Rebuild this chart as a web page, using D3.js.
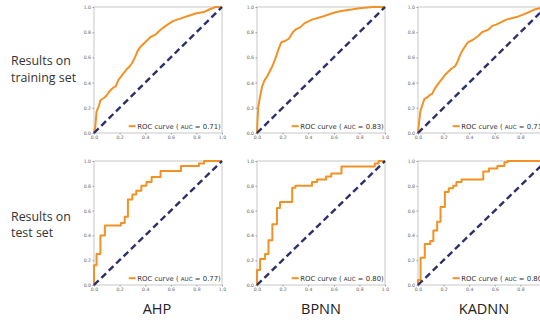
<!DOCTYPE html>
<html><head><meta charset="utf-8">
<script src="https://cdn.jsdelivr.net/npm/d3@7"></script>
<style>html,body{margin:0;padding:0;background:#fff;overflow:hidden}</style>
</head><body>
<svg id="c" width="540" height="323"></svg>
<script>
const models = ["AHP", "BPNN", "KADNN"];
const rowLabels = [["Results on", "training set"], ["Results on", "test set"]];
const aucTrain = ["0.71", "0.83", "0.71"];
const aucTest = ["0.77", "0.80", "0.80"];
const tickValues = [0, 0.2, 0.4, 0.6, 0.8, 1.0];
const tickLabels = ["0.0", "0.2", "0.4", "0.6", "0.8", "1.0"];

const ahpTrain = [[0,0],[0.01,0.05],[0.02,0.17],[0.04,0.22],[0.05,0.26],[0.08,0.28],[0.1,0.3],[0.12,0.33],[0.15,0.36],[0.17,0.37],[0.19,0.42],[0.22,0.46],[0.25,0.5],[0.28,0.53],[0.3,0.56],[0.32,0.6],[0.34,0.65],[0.36,0.68],[0.4,0.72],[0.44,0.76],[0.48,0.78],[0.52,0.82],[0.56,0.85],[0.62,0.89],[0.68,0.91],[0.74,0.93],[0.8,0.95],[0.86,0.96],[0.9,0.98],[0.95,1.0],[1,1]];
const bpnnTrain = [[0,0],[0.005,0.12],[0.01,0.21],[0.03,0.32],[0.04,0.37],[0.06,0.42],[0.08,0.45],[0.1,0.49],[0.12,0.53],[0.14,0.58],[0.16,0.64],[0.17,0.67],[0.19,0.72],[0.22,0.73],[0.25,0.75],[0.28,0.8],[0.3,0.82],[0.34,0.84],[0.37,0.87],[0.43,0.9],[0.5,0.92],[0.56,0.94],[0.62,0.96],[0.67,0.97],[0.74,0.98],[0.8,0.99],[0.9,1.0],[1,1]];
const kadnnTrain = [[0,0],[0.01,0.1],[0.02,0.18],[0.04,0.24],[0.05,0.27],[0.07,0.28],[0.09,0.3],[0.11,0.31],[0.13,0.35],[0.15,0.38],[0.18,0.42],[0.21,0.46],[0.24,0.49],[0.26,0.51],[0.29,0.53],[0.31,0.57],[0.33,0.62],[0.35,0.66],[0.39,0.72],[0.43,0.74],[0.47,0.77],[0.5,0.8],[0.55,0.82],[0.58,0.85],[0.61,0.86],[0.65,0.88],[0.69,0.9],[0.73,0.91],[0.77,0.92],[0.82,0.94],[0.87,0.96],[0.91,0.98],[0.95,0.99],[1,1]];
const ahpTest = [[0,0],[0,0.16],[0.02,0.16],[0.02,0.25],[0.05,0.25],[0.05,0.40],[0.085,0.40],[0.085,0.48],[0.21,0.48],[0.21,0.5],[0.24,0.5],[0.24,0.55],[0.265,0.55],[0.265,0.69],[0.3,0.69],[0.3,0.73],[0.33,0.73],[0.33,0.76],[0.37,0.76],[0.37,0.8],[0.41,0.8],[0.41,0.83],[0.45,0.83],[0.45,0.87],[0.52,0.87],[0.52,0.92],[0.68,0.92],[0.68,0.96],[0.82,0.96],[0.82,0.98],[0.86,0.98],[0.86,1.0],[1,1]];
const bpnnTest = [[0,0],[0,0.12],[0.024,0.12],[0.024,0.21],[0.063,0.21],[0.063,0.25],[0.09,0.25],[0.09,0.36],[0.12,0.36],[0.12,0.49],[0.156,0.49],[0.156,0.62],[0.18,0.62],[0.18,0.67],[0.275,0.67],[0.275,0.785],[0.3,0.785],[0.3,0.8],[0.43,0.8],[0.43,0.83],[0.47,0.83],[0.47,0.85],[0.54,0.85],[0.54,0.875],[0.58,0.875],[0.58,0.9],[0.66,0.9],[0.66,0.955],[0.92,0.955],[0.92,0.98],[0.95,0.98],[0.95,1.0],[1,1]];
const kadnnTest = [[0,0],[0,0.04],[0.02,0.04],[0.02,0.22],[0.053,0.22],[0.053,0.33],[0.096,0.33],[0.096,0.355],[0.12,0.355],[0.12,0.44],[0.15,0.44],[0.15,0.51],[0.176,0.51],[0.176,0.63],[0.21,0.63],[0.21,0.75],[0.24,0.75],[0.24,0.78],[0.275,0.78],[0.275,0.8],[0.3,0.8],[0.3,0.83],[0.34,0.83],[0.34,0.85],[0.51,0.85],[0.51,0.915],[0.555,0.915],[0.555,0.94],[0.62,0.94],[0.62,0.96],[0.675,0.96],[0.675,0.99],[0.70,0.99],[0.70,1.0],[1,1]];

const series = [[ahpTrain, bpnnTrain, kadnnTrain], [ahpTest, bpnnTest, kadnnTest]];
const aucs = [aucTrain, aucTest];

const svg = d3.select("#c");
const colX = [94, 257, 418];
const rowY = [[7, 133], [161, 285]];
const pw = 128;
const orange = "#f39224";
const navy = "#2c2f6b";
const tickFont = "DejaVu Sans, sans-serif";

for (let r = 0; r < 2; r++) {
  for (let c = 0; c < 3; c++) {
    const x0 = colX[c], x1 = colX[c] + pw;
    const [yt, yb] = rowY[r];
    const xs = d3.scaleLinear().domain([0, 1]).range([x0, x1]);
    const ys = d3.scaleLinear().domain([0, 1]).range([yb, yt]);
    const g = svg.append("g");
    g.append("rect").attr("x", x0).attr("y", yt).attr("width", pw).attr("height", yb - yt)
      .attr("fill", "none").attr("stroke", "#c8c8c8").attr("stroke-width", 1);
    const xa = g.append("g").attr("transform", `translate(0,${yb})`)
      .call(d3.axisBottom(xs).tickValues(tickValues).tickFormat((d, i) => tickLabels[i]).tickSize(1.5).tickPadding(1.5));
    const ya = g.append("g").attr("transform", `translate(${x0},0)`)
      .call(d3.axisLeft(ys).tickValues(tickValues).tickFormat((d, i) => tickLabels[i]).tickSize(1.5).tickPadding(1.5));
    [xa, ya].forEach(a => {
      a.select(".domain").remove();
      a.selectAll("line").attr("stroke", "#999");
      a.selectAll("text").attr("font-size", 4.6).attr("fill", "#666").attr("font-family", tickFont);
    });
    const line = d3.line().x(d => xs(d[0])).y(d => ys(d[1]));
    g.append("path").datum(series[r][c]).attr("d", line)
      .attr("fill", "none").attr("stroke", orange).attr("stroke-width", 2).attr("stroke-linejoin", "round");
    g.append("path").datum([[0, 0], [1, 1]]).attr("d", line)
      .attr("fill", "none").attr("stroke", navy).attr("stroke-width", 2.4).attr("stroke-dasharray", "6.5,3.8");
    const lt = g.append("text").attr("x", x1 - 1.2).attr("y", yb - 4.5).attr("text-anchor", "end")
      .attr("font-size", 6.9).attr("font-family", tickFont).attr("fill", "#333");
    lt.append("tspan").text("ROC curve ( ");
    lt.append("tspan").attr("font-size", 5.6).text("AUC");
    lt.append("tspan").text(" = " + aucs[r][c] + ")");
    const bb = lt.node().getBBox();
    g.append("line").attr("x1", bb.x - 8.5).attr("x2", bb.x - 1.5).attr("y1", yb - 6.8).attr("y2", yb - 6.8)
      .attr("stroke", orange).attr("stroke-width", 2);
  }
}

const labFont = "Open Sans, Noto Sans, sans-serif";
const rowBase = [[65, 82], [221, 237]];
rowLabels.forEach((lines, r) => {
  lines.forEach((t, i) => {
    svg.append("text").attr("x", 11).attr("y", rowBase[r][i]).attr("font-size", 12.4)
      .attr("font-family", labFont).attr("fill", "#333").text(t);
  });
});
const colCenters = [157, 321, 484];
models.forEach((m, i) => {
  svg.append("text").attr("x", colCenters[i]).attr("y", 314).attr("text-anchor", "middle")
    .attr("font-size", 14.5).attr("font-family", labFont).attr("fill", "#222").text(m);
});
</script>
</body></html>
